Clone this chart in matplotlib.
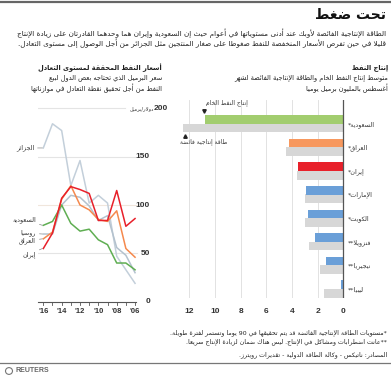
import re
import matplotlib
matplotlib.use('Agg')
import matplotlib.pyplot as plt
from matplotlib.lines import Line2D

# ---- data ----
years = [2016, 2015, 2014, 2013, 2012, 2011, 2010, 2009, 2008, 2007, 2006]
algeria = [159, 184, 177, 120, 146, 102, 110, 102, 47, 33, 19]
russia = [70, 70, 100, 110, 108, 99, 84, 89, 56, 48, 30]
saudi = [79, 83, 100, 81, 73, 75, 64, 59, 40, 40, 33]
iraq = [65, 72, 106, 120, 100, 95, 85, 83, 94, 55, 46]
iran = [55, 71, 107, 119, 116, 112, 84, 84, 115, 78, 86]

countries = ['السعودية*', 'العراق*', 'إيران*', 'الإمارات*', 'الكويت*',
             'فنزويلا**', 'نيجيريا**', 'ليبيا**']
production = [10.74, 4.26, 3.55, 2.9, 2.78, 2.18, 1.4, 0.18]
capacity = [12.47, 4.5, 3.6, 3.03, 2.96, 2.7, 1.79, 1.53]
bar_colors = ['#a2cd6f', '#f7985e', '#e8202a', '#6a9fd8', '#6a9fd8',
              '#6a9fd8', '#6a9fd8', '#6a9fd8']

# ---- simple arabic shaping (presentation forms) + rtl order ----
FORMS = {'ء': (0xFE80, 1), 'آ': (0xFE81, 2), 'أ': (0xFE83, 2), 'ؤ': (0xFE85, 2),
         'إ': (0xFE87, 2), 'ئ': (0xFE89, 4), 'ا': (0xFE8D, 2), 'ب': (0xFE8F, 4),
         'ة': (0xFE93, 2), 'ت': (0xFE95, 4), 'ث': (0xFE99, 4), 'ج': (0xFE9D, 4),
         'ح': (0xFEA1, 4), 'خ': (0xFEA5, 4), 'د': (0xFEA9, 2), 'ذ': (0xFEAB, 2),
         'ر': (0xFEAD, 2), 'ز': (0xFEAF, 2), 'س': (0xFEB1, 4), 'ش': (0xFEB5, 4),
         'ص': (0xFEB9, 4), 'ض': (0xFEBD, 4), 'ط': (0xFEC1, 4), 'ظ': (0xFEC5, 4),
         'ع': (0xFEC9, 4), 'غ': (0xFECD, 4), 'ف': (0xFED1, 4), 'ق': (0xFED5, 4),
         'ك': (0xFED9, 4), 'ل': (0xFEDD, 4), 'م': (0xFEE1, 4), 'ن': (0xFEE5, 4),
         'ه': (0xFEE9, 4), 'و': (0xFEED, 2), 'ى': (0xFEEF, 2), 'ي': (0xFEF1, 4)}
LAM_ALEF = {'آ': 0xFEF5, 'أ': 0xFEF7, 'إ': 0xFEF9, 'ا': 0xFEFB}


def shape(text):
    out = []
    i, n = 0, len(text)
    prev = False
    while i < n:
        c = text[i]
        if c not in FORMS:
            out.append(c)
            prev = False
            i += 1
            continue
        if c == 'ل' and i + 1 < n and text[i + 1] in LAM_ALEF:
            out.append(chr(LAM_ALEF[text[i + 1]] + (1 if prev else 0)))
            prev = False
            i += 2
            continue
        start, k = FORMS[c]
        nxt = text[i + 1] if i + 1 < n else ''
        fwd = k == 4 and nxt in FORMS and nxt != 'ء'
        if k == 1:
            f = start
        elif prev and fwd:
            f = start + 3
        elif prev:
            f = start + 1
        elif fwd:
            f = start + 2
        else:
            f = start
        out.append(chr(f))
        prev = fwd
        i += 1
    return ''.join(out)


def ar(text):
    s = shape(text)[::-1]
    return re.sub(r'[0-9A-Za-z]+', lambda m: m.group(0)[::-1], s)


plt.rcParams['font.family'] = ['DejaVu Sans']
W, H = 391, 378
fig = plt.figure(figsize=(W / 100, H / 100), dpi=100)


def ftxt(x, y, s, **kw):
    kw.setdefault('va', 'center')
    kw.setdefault('color', '#222222')
    fig.text(x / W, 1 - y / H, s, **kw)


def hline(y, x0, x1, color, lw):
    fig.add_artist(Line2D([x0 / W, x1 / W], [1 - y / H, 1 - y / H],
                          transform=fig.transFigure, color=color, lw=lw))


# header
hline(2, 0, W, '#666666', 1.6)
ftxt(386, 15, ar('تحت ضغط'), ha='right', fontsize=10, fontweight='bold', color='#111111')
ftxt(386, 33, ar('الطاقة الإنتاجية الفائضة لأوبك عند أدنى مستوياتها في أعوام حيث إن السعودية وإيران هما وحدهما القادرتان على زيادة الإنتاج'),
     ha='right', fontsize=5.25)
ftxt(386, 43, ar('قليلا في حين تفرض الأسعار المنخفضة للنفط ضغوطا على صغار المنتجين مثل الجزائر من أجل الوصول إلى مستوى التعادل.'),
     ha='right', fontsize=5.25)

# left panel header
ftxt(162, 68, ar('أسعار النفط المحققة لمستوى التعادل'), ha='right', fontsize=4.8, fontweight='bold')
ftxt(162, 78, ar('سعر البرميل الذي تحتاجه بعض الدول لبيع'), ha='right', fontsize=4.8)
ftxt(162, 88, ar('النفط من أجل تحقيق نقطة التعادل في موازناتها'), ha='right', fontsize=4.8)

# right panel header
ftxt(388, 68, ar('إنتاج النفط'), ha='right', fontsize=4.8, fontweight='bold')
ftxt(388, 78, ar('متوسط إنتاج النفط الخام والطاقة الإنتاجية الفائضة لشهر'), ha='right', fontsize=4.8)
ftxt(388, 88, ar('أغسطس بالمليون برميل يوميا'), ha='right', fontsize=4.8)

# ---- left line chart ----
ax1 = fig.add_axes([38 / W, 1 - 301.7 / H, 112 / W, 201.7 / H])
ax1.set_xlim(2016.58, 2004.37)
ax1.set_ylim(0, 208.6)
ax1.axis('off')
for v, x1 in [(200, 0.78), (150, 0.88), (100, 0.88), (50, 0.88)]:
    ax1.axhline(v, 0, x1, color='#f0e6dc' if v == 100 else '#e4e4e4', lw=0.8, zorder=0)
ax1.plot([2016.58, 2005.95], [0, 0], color='#555555', lw=0.8, clip_on=False)
for yr in years:
    ax1.plot([yr, yr], [0, -3.2], color='#555555', lw=0.6, clip_on=False)
    if yr % 2 == 0:
        ax1.text(yr, -10.5, "'" + str(yr)[2:], ha='center', va='center',
                 fontsize=5.5, fontweight='bold', color='#333333', family='Liberation Sans')

ax1.plot(years, algeria, color='#c3cfda', lw=1.1)
ax1.plot(years, russia, color='#b4c2ce', lw=1.1)
ax1.plot(years, saudi, color='#5fae52', lw=1.1)
ax1.plot(years, iraq, color='#f5894d', lw=1.1)
ax1.plot(years, iran, color='#e8202a', lw=1.1)

for v in [150, 100, 50, 0]:
    ax1.text(2004.37, v, str(v), ha='right', va='center', fontsize=6, fontweight='bold',
             color='#333333', family='Liberation Sans')
ax1.text(2002.4, 200, '200', ha='right', va='center', fontsize=6, fontweight='bold',
         color='#333333', family='Liberation Sans')
ax1.text(2003.95, 200, ar('دولار/برميل'), ha='right', va='center', fontsize=3.7, color='#333333')

lab_kw = dict(ha='right', va='center', fontsize=4.6, color='#333333', annotation_clip=False,
              arrowprops=dict(arrowstyle='-', color='#888888', lw=0.5, shrinkA=0.5, shrinkB=0))
ax1.annotate(ar('الجزائر'), xy=(2016.1, algeria[0]), xytext=(2017.0, 159), **lab_kw)
ax1.annotate(ar('السعودية'), xy=(2016.1, saudi[0]), xytext=(2016.8, 85), **lab_kw)
ax1.annotate(ar('روسيا'), xy=(2016.1, russia[0]), xytext=(2016.8, 71), **lab_kw)
ax1.annotate(ar('العراق'), xy=(2016.1, iraq[0]), xytext=(2016.8, 63), **lab_kw)
ax1.annotate(ar('إيران'), xy=(2016.1, iran[0]), xytext=(2016.8, 49), **lab_kw)

# ---- right bar chart ----
ax2 = fig.add_axes([180 / W, 1 - 298 / H, 165 / W, 198 / H])
ax2.set_xlim(12.72, -0.117)
ax2.set_ylim(7.564, -0.826)
ax2.axis('off')
for v in range(2, 13, 2):
    ax2.axvline(v, color='#e2e2e2', lw=0.7, zorder=0)
idx = list(range(len(countries)))
ax2.barh([i + 0.36 for i in idx], capacity, height=0.37, color='#d7d7d7', zorder=1)
ax2.barh(idx, production, height=0.37, color=bar_colors, zorder=2)
ax2.axvline(0, color='#555555', lw=0.9, zorder=3)
for i, name in enumerate(countries):
    ax2.text(-0.35, i + 0.2, ar(name), ha='left', va='center', fontsize=4.6, color='#333333')
for v in range(0, 13, 2):
    ax2.text(v, 8.13, str(v), ha='center', va='center', fontsize=6, fontweight='bold',
             color='#333333', family='Liberation Sans')

ax2.plot(production[0] + 0.15, -0.36, marker='v', color='#222222', ms=2.5, clip_on=False)
ax2.text(9.1, -0.70, ar('إنتاج النفط الخام'), ha='center', va='center', fontsize=4.3, color='#333333')
ax2.plot(capacity[0] - 0.15, 0.70, marker='^', color='#222222', ms=2.5, clip_on=False)
ax2.text(10.85, 0.95, ar('طاقة إنتاجية فائضة'), ha='center', va='center', fontsize=4.3, color='#333333')

# footer
ftxt(387, 333, ar('*مستويات الطاقة الإنتاجية الفائضة قد يتم تحقيقها في 90 يوما وتستمر لفترة طويلة.'),
     ha='right', fontsize=4.5)
ftxt(387, 342, ar('**عانت اضطرابات ومشاكل في الإنتاج. ليس هناك ضمان لزيادة الإنتاج سريعا.'),
     ha='right', fontsize=4.5)
ftxt(387, 355, ar('المصادر: ناتيكس - وكالة الطاقة الدولية - تقديرات رويترز.'), ha='right', fontsize=4.5)
hline(363, 0, W, '#777777', 0.9)
fig.add_artist(plt.Circle((9 / W, 1 - 371 / H), 3.5 / W, transform=fig.transFigure,
                          fill=False, color='#777777', lw=0.8))
ftxt(15, 371, 'REUTERS', ha='left', fontsize=5, fontweight='bold', color='#666666',
     family='Liberation Sans')

fig.savefig('out.png', dpi=100)
